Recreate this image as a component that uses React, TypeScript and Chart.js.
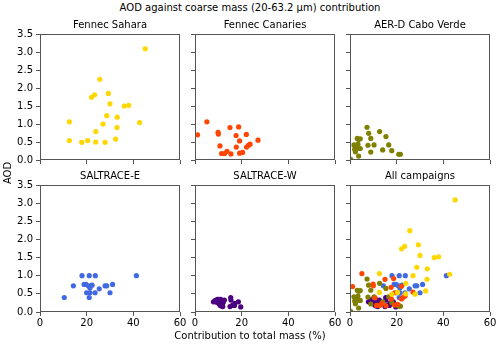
import React, { useEffect, useRef } from "react";
import { Chart, registerables } from "chart.js";

Chart.register(...registerables);

const FONT = "'DejaVu Sans', sans-serif";

const MAIN_TITLE = "AOD against coarse mass (20-63.2 \u03bcm) contribution";
const X_LABEL = "Contribution to total mass (%)";
const Y_LABEL = "AOD";

const X_TICKS = [0, 20, 40, 60];
const Y_TICKS = [0, 0.5, 1, 1.5, 2, 2.5, 3, 3.5];

const CAMPAIGNS = ["Fennec Sahara", "Fennec Canaries", "AER-D Cabo Verde", "SALTRACE-E", "SALTRACE-W"];
const COLORS = ["#FFD700", "#FF4500", "#808000", "#4169E1", "#4B0082"];

const SAHARA_X = [12.6, 12.6, 17.9, 20.4, 23.9, 27.9, 32.4, 23.9, 27.0, 33.0, 28.6, 33.1, 30.0, 36.1, 38.0, 29.3, 22.1, 23.4, 25.6, 42.7, 45.1];
const SAHARA_Y = [1.06, 0.54, 0.49, 0.54, 0.50, 0.49, 0.58, 0.79, 1.00, 0.90, 1.23, 1.19, 1.56, 1.50, 1.52, 1.85, 1.74, 1.81, 2.24, 1.04, 3.09];

const CANARIES_X = [1.1, 5.1, 9.9, 10.0, 10.7, 11.4, 12.7, 13.7, 15.0, 15.4, 17.6, 17.7, 18.7, 19.1, 19.1, 20.4, 22.0, 22.1, 22.9, 23.6, 27.0];
const CANARIES_Y = [0.70, 1.06, 0.77, 0.72, 0.39, 0.18, 0.18, 0.24, 0.90, 0.17, 0.68, 0.36, 0.92, 0.53, 0.19, 0.21, 0.71, 0.36, 0.41, 0.44, 0.55];

const CABO_X = [0.3, 1.7, 2.7, 2.0, 2.3, 3.1, 3.7, 4.4, 3.4, 3.0, 3.7, 4.4, 7.3, 8.0, 8.9, 7.7, 8.9, 10.3, 12.7, 14.0, 15.4, 16.6, 17.9, 20.9, 21.6];
const CABO_Y = [0.02, 0.42, 0.39, 0.30, 0.23, 0.60, 0.57, 0.59, 0.44, 0.32, 0.11, 0.32, 0.91, 0.74, 0.60, 0.41, 0.22, 0.42, 0.79, 0.28, 0.65, 0.42, 0.26, 0.16, 0.16];

const SALE_X = [10.4, 14.3, 18.0, 18.9, 19.7, 20.0, 20.7, 21.1, 21.1, 21.4, 21.4, 22.3, 23.7, 23.6, 25.4, 27.9, 28.6, 30.0, 31.1, 41.3];
const SALE_Y = [0.40, 0.72, 1.00, 0.76, 0.76, 0.53, 0.72, 1.00, 0.40, 0.66, 0.53, 0.74, 1.00, 0.53, 0.64, 0.72, 0.72, 0.53, 0.76, 1.00];

const SALW_X = [7.9, 8.7, 9.3, 9.6, 10.3, 11.0, 10.1, 11.0, 11.9, 12.1, 12.6, 11.5, 15.3, 15.4, 15.0, 16.0, 16.9, 17.1, 18.6, 19.6, 10.6];
const SALW_Y = [0.28, 0.32, 0.27, 0.35, 0.35, 0.35, 0.24, 0.17, 0.15, 0.26, 0.33, 0.30, 0.40, 0.33, 0.15, 0.18, 0.18, 0.24, 0.28, 0.14, 0.20];

const SERIES_X = [SAHARA_X, CANARIES_X, CABO_X, SALE_X, SALW_X];
const SERIES_Y = [SAHARA_Y, CANARIES_Y, CABO_Y, SALE_Y, SALW_Y];

const PANEL_TITLES = [...CAMPAIGNS, "All campaigns"];

// layout (pixels)
const COL_L = [40, 195, 350];
const ROW_T = [34, 185];
const PANEL_W = 140;
const PANEL_H = [126, 127];
const AXIS_W = 40;
const AXIS_H = 24;
const TITLE_H = 18;
const PAD_R = 8;
const SPINE = "#555";

const boxPlugin = {
  id: "box",
  afterDatasetsDraw(chart: any) {
    const { ctx, chartArea } = chart;
    ctx.save();
    ctx.strokeStyle = SPINE;
    ctx.lineWidth = 1;
    ctx.strokeRect(
      Math.round(chartArea.left) + 0.5,
      Math.round(chartArea.top) + 0.5,
      Math.round(chartArea.right - chartArea.left) - 1,
      Math.round(chartArea.bottom - chartArea.top) - 1
    );
    ctx.restore();
  },
};

function Panel({ idx }: { idx: number }) {
  const ref = useRef<HTMLCanvasElement>(null);
  const col = idx % 3;
  const row = Math.floor(idx / 3);
  const w = AXIS_W + PANEL_W + PAD_R;
  const h = TITLE_H + PANEL_H[row] + AXIS_H;
  useEffect(() => {
    const series = idx < 5 ? [idx] : [0, 1, 2, 3, 4];
    const datasets = series.map((s) => ({
      label: CAMPAIGNS[s],
      data: SERIES_X[s].map((x, i) => ({ x, y: SERIES_Y[s][i] })),
      backgroundColor: COLORS[s],
      borderWidth: 0,
      pointRadius: 2.6,
      clip: 0,
    }));
    const showX = row === 1;
    const showY = col === 0;
    const chart = new Chart(ref.current as HTMLCanvasElement, {
      type: "scatter",
      data: { datasets },
      plugins: [boxPlugin],
      options: {
        animation: false,
        responsive: false,
        devicePixelRatio: 1,
        events: [],
        layout: { padding: { left: 0, right: PAD_R, top: 0, bottom: 0 } },
        plugins: {
          legend: { display: false },
          tooltip: { enabled: false },
          title: {
            display: true,
            text: PANEL_TITLES[idx],
            fullSize: false,
            color: "#000",
            font: { family: FONT, size: 10, weight: "normal" },
            padding: { top: 3, bottom: 3 },
          },
        },
        scales: {
          x: {
            type: "linear",
            min: 0,
            max: 60,
            afterBuildTicks: (scale: any) => {
              scale.ticks = X_TICKS.map((v) => ({ value: v }));
            },
            afterFit: (scale: any) => {
              scale.height = AXIS_H;
            },
            ticks: {
              display: showX,
              color: "#000",
              font: { family: FONT, size: 10 },
              padding: 1,
              maxRotation: 0,
              callback: (v: any) => String(v),
            },
            grid: { drawOnChartArea: false, drawTicks: true, tickLength: 4, color: SPINE, lineWidth: 1 },
            border: { display: false },
          },
          y: {
            type: "linear",
            min: 0,
            max: 3.5,
            afterBuildTicks: (scale: any) => {
              scale.ticks = Y_TICKS.map((v) => ({ value: v }));
            },
            afterFit: (scale: any) => {
              scale.width = AXIS_W;
            },
            ticks: {
              display: showY,
              color: "#000",
              font: { family: FONT, size: 10 },
              padding: 3,
              callback: (v: any) => Number(v).toFixed(1),
            },
            grid: { drawOnChartArea: false, drawTicks: true, tickLength: 4, color: SPINE, lineWidth: 1 },
            border: { display: false },
          },
        },
      } as any,
    });
    return () => chart.destroy();
  }, [idx]);
  return (
    <canvas
      ref={ref}
      width={w}
      height={h}
      style={{
        position: "absolute",
        left: COL_L[col] - AXIS_W,
        top: ROW_T[row] - TITLE_H,
        width: w,
        height: h,
      }}
    />
  );
}

export default function App() {
  const text: React.CSSProperties = {
    position: "absolute",
    fontFamily: FONT,
    fontSize: 10,
    lineHeight: "12px",
    color: "#000",
    whiteSpace: "nowrap",
  };
  return (
    <div style={{ position: "absolute", left: 0, top: 0, width: 500, height: 346, background: "#fff", overflow: "hidden" }}>
      <div style={{ ...text, left: 0, top: 2, width: 500, textAlign: "center" }}>{MAIN_TITLE}</div>
      {[0, 1, 2, 3, 4, 5].map((i) => (
        <Panel key={i} idx={i} />
      ))}
      <div style={{ ...text, left: 0, top: 330, width: 500, textAlign: "center" }}>{X_LABEL}</div>
      <div
        style={{
          ...text,
          left: 7.5 - 30,
          top: 173 - 6,
          width: 60,
          textAlign: "center",
          transform: "rotate(-90deg)",
        }}
      >
        {Y_LABEL}
      </div>
    </div>
  );
}
